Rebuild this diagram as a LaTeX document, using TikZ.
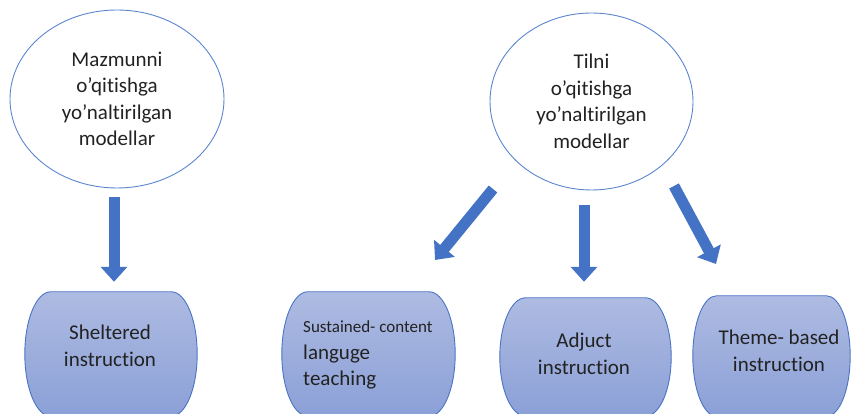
\documentclass[tikz,border=0pt]{standalone}
\usepackage{fontspec}
\setmainfont{Carlito}[Ligatures=NoCommon]
\usepackage{tikz}
\usetikzlibrary{arrows.meta, positioning, shapes.geometric, calc}

\definecolor{ellblue}{HTML}{5B86CF}
\definecolor{boxedge}{HTML}{4A74C4}
\definecolor{termtop}{HTML}{AEBBE2}
\definecolor{termbot}{HTML}{8BA0D7}
\definecolor{arrowblue}{HTML}{4472C4}
\definecolor{ink}{HTML}{222222}

\begin{document}
\begin{tikzpicture}[
    x=1pt, y=1pt,
    every node/.style={font=\fontsize{21}{26.5}\selectfont, text=ink},
    model/.style={ellipse, draw=ellblue, line width=0.9pt, inner sep=0pt, align=center},
    method/.style={rectangle, inner sep=0pt},
    methodshape/.style={draw=boxedge, line width=0.9pt, top color=termtop, bottom color=termbot},
    boxtext/.style={align=center, inner sep=0pt},
    blockarrow/.style={-{Triangle[width=26pt, length=15pt]}, line width=11pt, draw=arrowblue}
]
\useasboundingbox (0,0) rectangle (856,414);

% top level models
\node[model, minimum width=214pt, minimum height=178pt] (ell1) at (117,315) {Mazmunni\\o’qitishga\\yo’naltirilgan\\modellar};
\node[model, minimum width=203pt, minimum height=177pt] (ell2) at (591.5,312.5) {Tilni\\o’qitishga\\yo’naltirilgan\\modellar};

% bottom boxes
\node[method, minimum width=172pt, minimum height=124pt] (shelt) at (111,60) {};
\node[method, minimum width=173pt, minimum height=124pt] (sust) at (368.5,60) {};
\node[method, minimum width=171pt, minimum height=118pt] (adj) at (585.5,57) {};
\node[method, minimum width=157pt, minimum height=120pt] (theme) at (771.5,58) {};

\foreach \bx in {shelt, sust, adj, theme} {
    \path[methodshape] let \p1=(\bx.north west), \p2=(\bx.south east),
        \n1={0.15*(\x2-\x1)}, \n2={0.5*(\y1-\y2)} in
        (\x1+\n1,\y1) -- (\x2-\n1,\y1)
        arc[start angle=90, end angle=-90, x radius=\n1, y radius=\n2]
        -- (\x1+\n1,\y2)
        arc[start angle=270, end angle=90, x radius=\n1, y radius=\n2] -- cycle;
}

\node[boxtext] (sheltT) at (110,68) {Sheltered\\instruction};
\node[boxtext, align=left, anchor=west] (sustT) at (303,59) {{\fontsize{17}{26.5}\selectfont Sustained- content}\\languge\\teaching};
\node[boxtext] (adjT) at (584,60) {Adjuct\\instruction};
\node[boxtext] (themeT) at (779,63) {Theme- based\\instruction};

% arrows
\coordinate (t1) at (493,225);
\coordinate (h1) at (435,154);
\coordinate (t2) at (674,228);
\coordinate (h2) at (716,150);

\draw[blockarrow, shorten <=9pt, shorten >=10pt] ([xshift=-3pt]ell1.south) -- ([xshift=-3pt]ell1.south |- shelt.north);
\draw[blockarrow, shorten <=15pt, shorten >=16pt] ([xshift=-7.5pt]ell2.south) -- ([xshift=-7.5pt]ell2.south |- adj.north);
\draw[blockarrow] (t1) -- (h1);
\draw[blockarrow] (t2) -- (h2);

\end{tikzpicture}
\end{document}
